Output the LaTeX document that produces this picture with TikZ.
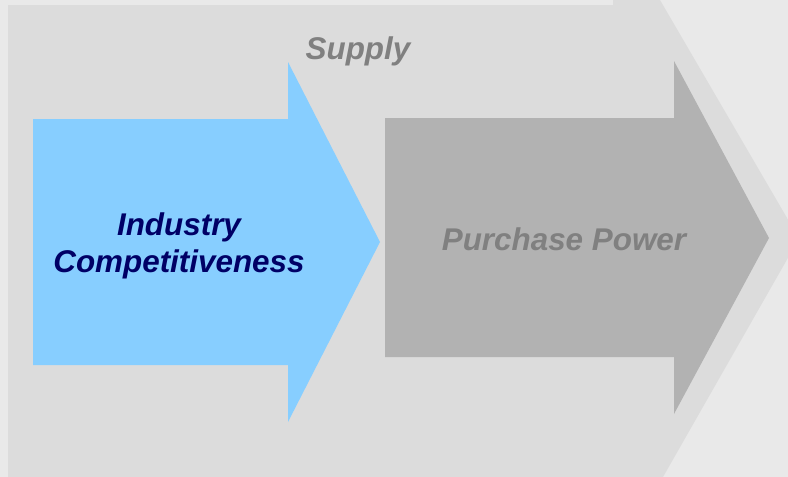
\documentclass[tikz,border=0pt]{standalone}
\usepackage{fontspec}
\setmainfont{Liberation Sans}
\definecolor{bgback}{HTML}{E9E9E9}
\definecolor{chevgray}{HTML}{DCDCDC}
\definecolor{arrowblue}{HTML}{87CEFF}
\definecolor{arrowgray}{HTML}{B2B2B2}
\definecolor{txtgray}{HTML}{808080}
\definecolor{txtnavy}{HTML}{000066}

\begin{document}
\begin{tikzpicture}[x=1pt, y=-1pt,
    lbl/.style={font=\fontsize{31.4}{37.7}\selectfont\bfseries\itshape, inner sep=0pt, align=center}]
    \useasboundingbox (0,0) rectangle (788,477);
    \fill[bgback] (0,0) rectangle (788,477);

    % big supply chevron
    \fill[chevgray] (8,5) -- (613,5) -- (613,0) -- (660,0) -- (799,238.5) -- (663,477) -- (8,477) -- cycle;

    % inner arrows
    \fill[arrowblue] (33,119) -- (288,119) -- (288,62) -- (380,242) -- (288,422) -- (288,365) -- (33,365) -- cycle;
    \fill[arrowgray] (385,118) -- (674,118) -- (674,61) -- (769,238) -- (674,414) -- (674,357) -- (385,357) -- cycle;

    \node[lbl, txtgray, anchor=base] (supply) at (358,59) {Supply};
    \node[lbl, txtnavy] (industry) at (179,246) {Industry\\Competitiveness};
    \node[lbl, txtgray, anchor=base] (purchase) at (564,250) {Purchase Power};
\end{tikzpicture}
\end{document}
